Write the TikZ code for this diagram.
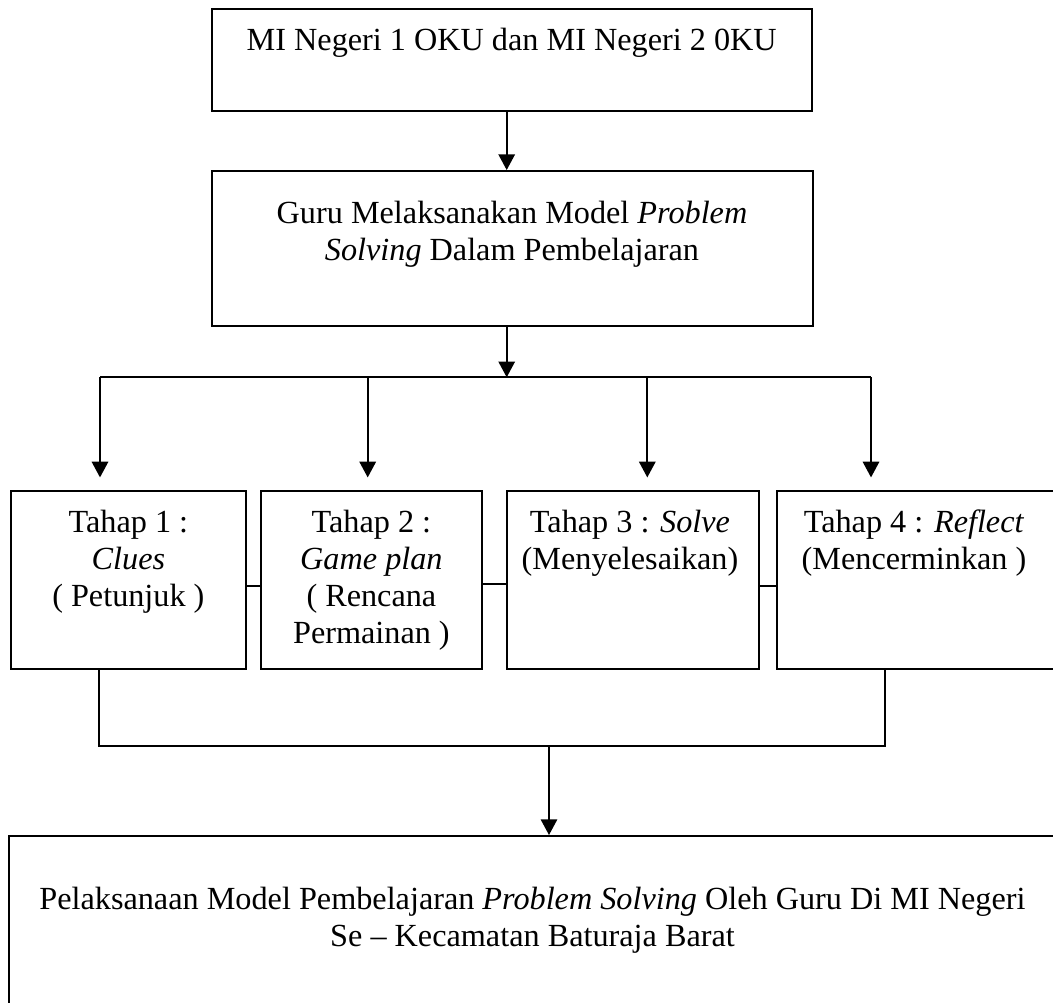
\documentclass[tikz,border=0pt]{standalone}
\usepackage{fontspec}
\setmainfont{Liberation Serif}
\usetikzlibrary{arrows.meta}
\begin{document}
\begin{tikzpicture}[x=0.38pt,y=-0.38pt]
\tikzset{box/.style 2 args = {draw, line width=0.7pt, inner sep=0pt,
    minimum width=#1*0.38pt, minimum height=#2*0.38pt}}
\tikzset{txt/.style = {align=center, inner sep=0pt, anchor=north,
    font=\fontsize{12.25}{14}\selectfont}}
\tikzset{flow/.style = {line width=0.85pt, -{Triangle[width=6.2pt,length=6pt]}}}
\tikzset{joint/.style = {line width=0.65pt}}
\useasboundingbox (0,0) rectangle (1053,1003);
% boxes at the top
\node[box={600}{101.4}] (mi) at (511.7,60) {};
\node[box={601.3}{155}] (guru) at (512.35,248.5) {};
\node[txt] (mitxt) at (511.7,28) {MI Negeri 1 OKU dan MI Negeri 2 0KU};
\node[txt] (gurutxt) at (512,200.5) {Guru Melaksanakan Model \textit{Problem}\\ \textit{Solving} Dalam Pembelajaran};
% the four stages
\node[box={234.7}{178}] (s1) at (128.35,580) {};
\node[box={220.7}{178}] (s2) at (371.35,580) {};
\node[box={252.6}{178}] (s3) at (633,580) {};
\node[box={276.7}{178}] (s4) at (915.65,580) {};
\node[txt] (s1txt) at (128.4,509.7) {Tahap 1 :\\ \textit{Clues}\\ ( Petunjuk )};
\node[txt] (s2txt) at (371.4,509.7) {Tahap 2 :\\ \textit{Game plan}\\ ( Rencana\\ Permainan )};
\node[txt] (s3txt) at (630,509.7) {Tahap 3 : \textit{Solve}\\ (Menyelesaikan)};
\node[txt] (s4txt) at (914,509.7) {Tahap 4 : \textit{Reflect}\\ (Mencerminkan )};
% result at the bottom
\node[box={1047.4}{169}] (hasil) at (533,920.5) {};
\node[txt] (hasiltxt) at (532.5,887) {Pelaksanaan Model Pembelajaran \textit{Problem Solving} Oleh Guru Di MI Negeri\\ Se – Kecamatan Baturaja Barat};
% points on the branch lines
\coordinate (split) at (506.7,377.3);
\coordinate (b1) at (100,377.3);
\coordinate (b2) at (367.7,377.3);
\coordinate (b3) at (647.3,377.3);
\coordinate (b4) at (871,377.3);
\coordinate (j1) at (99.3,746);
\coordinate (j4) at (885,746);
\coordinate (join) at (549,746);
% arrows down to the stages
\draw[flow] (mi.south -| split) to (guru.north -| split);
\draw[flow] (guru.south -| split) to (split);
\draw[joint] (b1) to (b4);
\foreach \i in {1,...,4}
  \draw[flow, shorten >=4.8pt] (b\i) to (b\i |- s\i.north);
% short links between the stages
\draw[joint] ([yshift=-2.3pt]s1.east) to ([yshift=-2.3pt]s2.west);
\draw[joint] ([yshift=-1.5pt]s2.east) to ([yshift=-1.5pt]s3.west);
\draw[joint] ([yshift=-2.2pt]s3.east) to ([yshift=-2.2pt]s4.west);
% stages joined into the result
\draw[joint] (s1.south -| j1) -- (j1) -- (j4) -- (s4.south -| j4);
\draw[flow] (join) to (hasil.north -| join);
\end{tikzpicture}
\end{document}
